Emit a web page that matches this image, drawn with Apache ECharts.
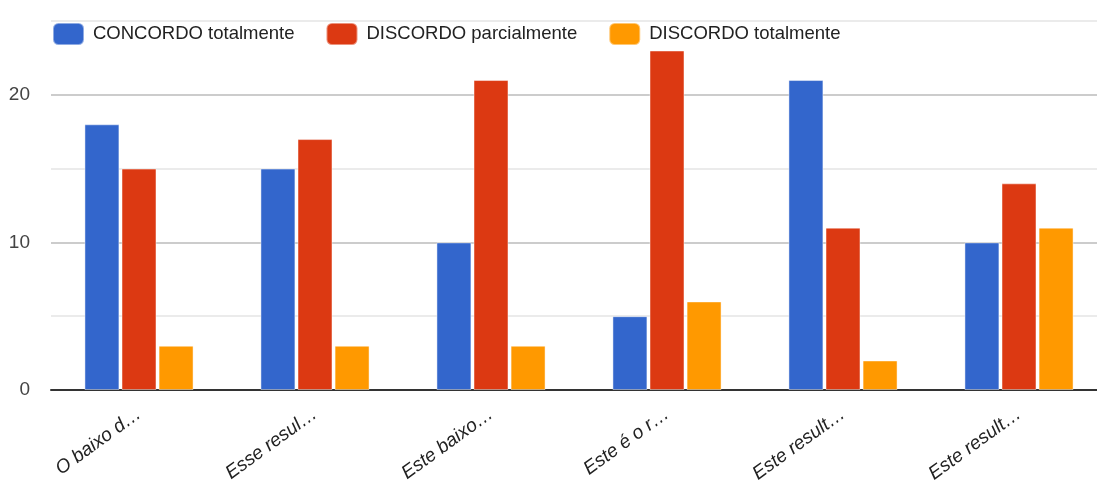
<!DOCTYPE html>
<html>
<head>
<meta charset="utf-8">
<style>
  html, body { margin: 0; padding: 0; background: #fff; overflow: hidden; }
  #chart { width: 1097px; height: 483px; }
</style>
<script src="https://cdn.jsdelivr.net/npm/echarts@6/dist/echarts.min.js"></script>
</head>
<body>
<div id="chart"></div>
<script>
// Question labels (truncated as shown on the axis)
const categories = ['O baixo d…', 'Esse resul…', 'Este baixo…', 'Este é o r…', 'Este result…', 'Este result…'];

// Response counts per answer option
const concordoTotalmente = [18, 15, 10, 5, 21, 10];
const discordoParcialmente = [15, 17, 21, 23, 11, 14];
const discordoTotalmente = [3, 3, 3, 6, 2, 11];

const seriesNames = ['CONCORDO totalmente', 'DISCORDO parcialmente', 'DISCORDO totalmente'];
const seriesColors = ['#3366cc', '#dc3912', '#ff9900'];
const seriesValues = [concordoTotalmente, discordoParcialmente, discordoTotalmente];

const FONT = '"Liberation Sans", Arial, sans-serif';

const chart = echarts.init(document.getElementById('chart'));

chart.setOption({
  animation: false,
  textStyle: { fontFamily: FONT },
  legend: {
    left: 47,
    top: 17,
    itemWidth: 31,
    itemHeight: 22,
    itemGap: 31,
    textStyle: { fontSize: 18.5, color: '#222', fontFamily: FONT, padding: [0, 0, 0, 4] },
    data: seriesNames
  },
  // plot band runs slightly past the right edge of the canvas
  grid: {
    left: 51, top: 21, bottom: 93, width: 1056,
    containLabel: false,
    outerBoundsMode: 'none'
  },
  xAxis: {
    type: 'category',
    data: categories,
    axisTick: { show: false },
    axisLine: { lineStyle: { color: '#333', width: 2 } },
    axisLabel: {
      rotate: 36,
      interval: 0,
      fontSize: 19,
      fontStyle: 'italic',
      fontFamily: FONT,
      color: '#222',
      margin: 22
    }
  },
  yAxis: {
    type: 'value',
    min: 0,
    max: 25,
    interval: 5,
    axisLine: { show: false },
    axisTick: { show: false },
    axisLabel: {
      fontSize: 19,
      fontFamily: FONT,
      color: '#444',
      margin: 21,
      formatter: v => (v % 10 === 0 ? String(v) : '')
    },
    splitLine: {
      lineStyle: { color: ['#cccccc', '#ebebeb'], width: 2 }
    }
  },
  series: seriesNames.map((name, i) => ({
    name,
    type: 'bar',
    data: seriesValues[i],
    barGap: '6%',
    barCategoryGap: '38%',
    itemStyle: {
      color: seriesColors[i],
      borderColor: 'rgba(255,255,255,0.45)',
      borderWidth: 1
    }
  }))
});
</script>
</body>
</html>
